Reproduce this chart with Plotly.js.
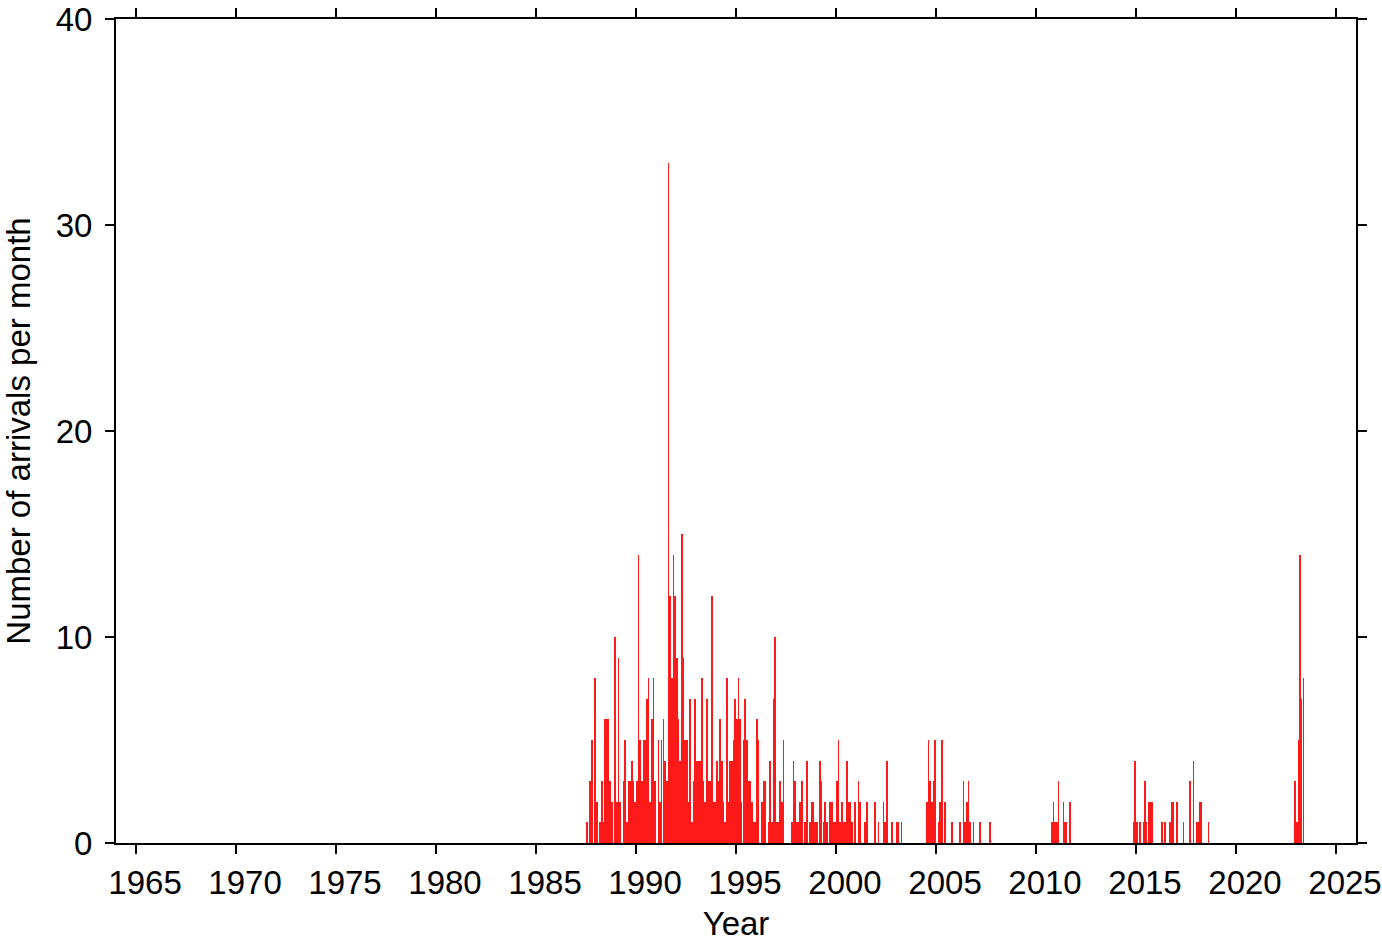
<!DOCTYPE html>
<html><head><meta charset="utf-8">
<script src="https://cdn.plot.ly/plotly-3.0.1.min.js"></script>
<style>html,body{margin:0;padding:0;background:#fff}</style>
</head><body>
<div id="chart" style="width:1382px;height:942px"></div>
<script>
// Month of arrival (YYYY-MM) and number of arrivals in that month
const months = [
 '1987-07','1987-09','1987-10','1987-12',
 '1988-01','1988-03','1988-04','1988-05','1988-06','1988-07','1988-08','1988-09','1988-10','1988-12',
 '1989-01','1989-02','1989-03','1989-05','1989-06','1989-07','1989-08','1989-09','1989-10','1989-11','1989-12',
 '1990-01','1990-02','1990-03','1990-04','1990-05','1990-06','1990-07','1990-08','1990-09','1990-10','1990-11','1990-12',
 '1991-02','1991-03','1991-04','1991-05','1991-06','1991-07','1991-08','1991-09','1991-10','1991-11','1991-12',
 '1992-01','1992-02','1992-03','1992-04','1992-05','1992-06','1992-07','1992-08','1992-09','1992-10','1992-11','1992-12',
 '1993-01','1993-02','1993-03','1993-04','1993-05','1993-06','1993-07','1993-08','1993-09','1993-10','1993-11','1993-12',
 '1994-01','1994-02','1994-03','1994-04','1994-05','1994-06','1994-07','1994-08','1994-09','1994-10','1994-11','1994-12',
 '1995-01','1995-02','1995-03','1995-04','1995-05','1995-06','1995-07','1995-08','1995-09','1995-10','1995-11','1995-12',
 '1996-01','1996-02','1996-04','1996-05','1996-06','1996-08','1996-09','1996-10','1996-11','1996-12',
 '1997-01','1997-02','1997-03','1997-04','1997-05','1997-10','1997-11','1997-12',
 '1998-01','1998-02','1998-03','1998-04','1998-06','1998-07','1998-09','1998-10','1998-11','1998-12',
 '1999-01','1999-03','1999-04','1999-05','1999-06','1999-07','1999-09','1999-10','1999-11','1999-12',
 '2000-01','2000-02','2000-03','2000-04','2000-05','2000-06','2000-07','2000-08','2000-09','2000-10','2000-12',
 '2001-02','2001-03','2001-06','2001-07','2001-12',
 '2002-02','2002-05','2002-06','2002-07','2002-10',
 '2003-01','2003-02','2003-04',
 '2004-07','2004-08','2004-09','2004-10','2004-11','2004-12',
 '2005-02','2005-03','2005-04','2005-06','2005-10',
 '2006-03','2006-05','2006-06','2006-07','2006-08','2006-09','2006-11',
 '2007-03','2007-09',
 '2010-10','2010-11','2010-12',
 '2011-01','2011-02','2011-05','2011-06','2011-07','2011-09',
 '2014-11','2014-12',
 '2015-01','2015-03','2015-05','2015-06','2015-07','2015-08','2015-09','2015-10',
 '2016-04','2016-06','2016-09','2016-10','2016-11',
 '2017-01','2017-05','2017-09','2017-11',
 '2018-01','2018-02','2018-03','2018-04','2018-08',
 '2022-12',
 '2023-01','2023-02','2023-03','2023-04','2023-05'
];
const counts = [
 1,3,5,8,
 2,1,3,1,6,6,6,3,2,10,
 2,9,2,3,5,1,3,3,4,3,2,
 3,14,5,3,5,5,7,8,2,6,8,3,
 5,2,5,6,4,3,33,12,8,14,12,
 9,6,4,15,9,5,5,2,7,1,3,7,
 4,4,4,8,3,2,7,3,3,12,2,2,
 4,3,6,4,2,1,8,2,4,4,5,7,
 6,8,6,2,5,7,5,3,3,2,1,1,
 6,5,2,3,3,1,4,1,7,10,
 1,1,3,2,5,1,4,3,
 1,1,2,3,1,4,1,2,2,1,
 1,4,3,1,2,1,2,2,1,1,
 3,5,1,2,1,1,4,2,2,1,2,
 3,2,1,2,2,
 1,2,1,4,1,
 1,1,1,
 2,5,3,2,3,5,
 1,2,5,2,1,
 1,3,1,2,3,1,1,
 1,1,
 1,2,1,
 1,3,2,1,1,2,
 1,4,
 1,1,1,3,1,2,2,2,
 1,1,1,2,2,
 2,1,3,4,
 1,1,2,2,1,
 3,
 1,5,14,7,8
];
const xTickYears = [1965,1970,1975,1980,1985,1990,1995,2000,2005,2010,2015,2020,2025];
const yTicks = [0,10,20,30,40];

const FONT = 'Liberation Sans, Arial, Helvetica, sans-serif';
const FS = 33;
const DAY = 86400000;

const trace = {
  type: 'bar',
  x: months,
  y: counts,
  xperiod: 'M1',
  xperiodalignment: 'middle',
  width: 27 * DAY,
  marker: {color: '#ff1a1a', line: {width: 0}},
  hoverinfo: 'x+y'
};

const axisCommon = {
  showline: true, linecolor: '#000', linewidth: 2, mirror: 'ticks',
  ticks: 'outside', ticklen: 9, tickwidth: 1.5, tickcolor: '#000',
  showgrid: false, zeroline: false,
  ticklabeloverflow: 'allow',
  tickfont: {family: FONT, size: FS, color: '#000'}
};

const layout = {
  width: 1382, height: 942,
  margin: {l: 116, r: 26, t: 19, b: 99},
  paper_bgcolor: '#fff', plot_bgcolor: '#fff',
  showlegend: false,
  bargap: 0,
  font: {family: FONT, size: FS, color: '#000'},
  xaxis: Object.assign({}, axisCommon, {
    type: 'date',
    range: ['1964-01-01', '2026-01-01'],
    tickmode: 'array',
    tickvals: xTickYears.map(y => y + '-01-01'),
    ticktext: xTickYears.map(String),
    ticklabelshift: 9,
    title: {text: 'Year', font: {family: FONT, size: FS, color: '#000'}, standoff: 29}
  }),
  yaxis: Object.assign({}, axisCommon, {
    range: [0, 40],
    tickmode: 'array',
    tickvals: yTicks,
    ticktext: yTicks.map(String),
    ticklabelstandoff: 6,
    title: {text: 'Number of arrivals per month', font: {family: FONT, size: FS, color: '#000'}, standoff: 28}
  })
};

Plotly.newPlot('chart', [trace], layout, {displayModeBar: false, staticPlot: true});
</script>
</body></html>
